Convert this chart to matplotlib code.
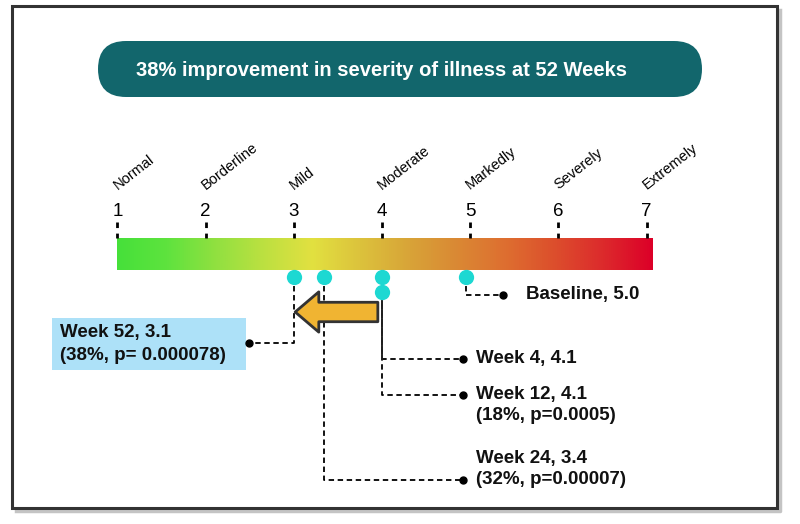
import matplotlib
matplotlib.use('Agg')
import numpy as np
import matplotlib.pyplot as plt
from matplotlib.colors import LinearSegmentedColormap
from matplotlib.patches import FancyBboxPatch, Rectangle, FancyArrowPatch

plt.rcParams['font.family'] = ['Liberation Sans', 'DejaVu Sans']

## data
scale_values = [1, 2, 3, 4, 5, 6, 7]
scale_names = ['Normal', 'Borderline', 'Mild', 'Moderate', 'Markedly', 'Severely', 'Extremely']

timepoints = ['Baseline', 'Week 4', 'Week 12', 'Week 24', 'Week 52']
scores = [5.0, 4.1, 4.1, 3.4, 3.1]
marker_pos = [4.95, 4.0, 4.0, 3.34, 3.0]      # where the dots sit on the scale
improvement = ['', '', '18%', '32%', '38%']
p_values = ['', '', 'p=0.0005', 'p=0.00007', 'p= 0.000078']
headline = '38% improvement in severity of illness at 52 Weeks'

gradient_colors = ['#46E03A', '#5EE33E', '#90E040', '#BCE040', '#E2E140', '#DCC23C',
                   '#D8A438', '#DA8834', '#DE6E30', '#DC4E2C', '#DC2A2C', '#DC0028']

W, H = 800, 524
fig = plt.figure(figsize=(W / 100, H / 100), dpi=100, facecolor='white')

# background axes in pixel units (frame, banner, label box)
bg = fig.add_axes([0, 0, 1, 1])
bg.set_xlim(0, W)
bg.set_ylim(H, 0)
bg.axis('off')

# soft shadow on right/bottom, then the frame
bg.plot([780, 780, 16], [10, 511, 511], color='#c4c4c4', lw=2.5, zorder=0)
bg.add_patch(Rectangle((12, 6), 765, 502, fill=False, lw=2.2, ec='#333333', zorder=1))

bg.add_patch(FancyBboxPatch((98, 41), 604, 56, boxstyle='round,pad=0,rounding_size=28',
                            fc='#12666C', ec='none'))
bg.text(381, 70, headline, color='white', fontsize=14.5, fontweight='bold',
        ha='center', va='center')

# main axes: x in severity units, y in pixels
ax = fig.add_axes([0, 0, 1, 1], facecolor='none')
ppu = 88.2  # pixels per scale unit
ax.axis('off')

def px(x):
    # pixel column -> scale units (for label placement)
    return 4 + (x - 382) / ppu

cmap = LinearSegmentedColormap.from_list('sev', gradient_colors)
grad = np.linspace(0, 1, 512).reshape(1, -1)
ax.imshow(grad, cmap=cmap, aspect='auto', extent=(1.0, 7.07, 270, 238), zorder=1)

for v, name in zip(scale_values, scale_names):
    ax.plot([v, v], [222, 238], color='black', lw=2, dashes=(2, 2), zorder=2)
    ax.text(v, 212, str(v), fontsize=13.5, ha='center', va='center')
    ax.text(v + 0.0, 190, name, fontsize=10.5, rotation=38, rotation_mode='anchor',
            ha='left', va='baseline')

ax.set_xlim(4 - 382 / ppu, 4 + (W - 382) / ppu)
ax.set_ylim(H, 0)

# connectors: marker y, elbow y, end x in px
dot_y = [277, 277, 292, 277, 277]
elbow_y = [295, 359, 395, 480, 343]
end_px = [503, 463, 463, 463, 249]
lc = dict(color='black', lw=1.3, dashes=(3, 2), zorder=2)

for i, t in enumerate(timepoints):
    x0 = marker_pos[i]
    x1 = px(end_px[i])
    ax.plot([x0, x0, x1], [dot_y[i], elbow_y[i], elbow_y[i]], **lc)
    ax.plot(x1, elbow_y[i], 'o', color='black', ms=5, zorder=3)

# solid stretch down from the stacked week 4/12 dots
ax.plot([marker_pos[1], marker_pos[1]], [292, 359], color='#222222', lw=1.3, zorder=2)

for i in range(len(timepoints)):
    ax.plot(marker_pos[i], dot_y[i], 'o', color='#1DD8D2', ms=11, mec='none', zorder=4)

lab = dict(fontsize=13.5, fontweight='bold', color='#111111', va='center', ha='left')
ax.text(px(526), 295, f'{timepoints[0]}, {scores[0]:.1f}', **lab)
ax.text(px(476), 359, f'{timepoints[1]}, {scores[1]:.1f}', **lab)
ax.text(px(476), 395, f'{timepoints[2]}, {scores[2]:.1f}', **lab)
ax.text(px(476), 416, f'({improvement[2]}, {p_values[2]})', **lab)
ax.text(px(476), 458, f'{timepoints[3]}, {scores[3]:.1f}', **lab)
ax.text(px(476), 480, f'({improvement[3]}, {p_values[3]})', **lab)

bg.add_patch(Rectangle((52, 318), 194, 52, fc='#ADE1F8', ec='none', zorder=1))
ax.text(px(60), 332, f'{timepoints[4]}, {scores[4]:.1f}', **lab)
ax.text(px(60), 355, f'({improvement[4]}, {p_values[4]})', **lab)

# improvement arrow from week 4/12 level to week 52 level
arr = FancyArrowPatch((marker_pos[1], 312), (marker_pos[4], 312),
                      arrowstyle='simple,head_length=17,head_width=29,tail_width=14',
                      mutation_scale=1, shrinkA=3, shrinkB=-1,
                      fc='#F0B432', ec='#333333', lw=2, zorder=3)
ax.add_patch(arr)

plt.savefig('out.png', dpi=100, facecolor='white')
